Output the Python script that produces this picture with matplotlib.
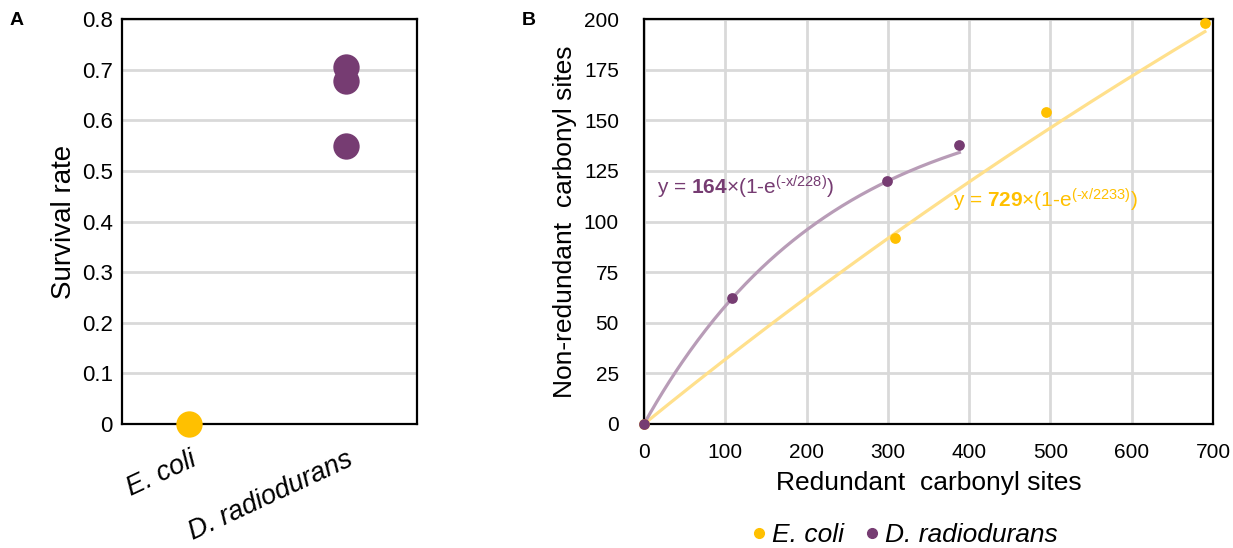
import numpy as np
import matplotlib.pyplot as plt
from matplotlib.lines import Line2D

plt.rcParams['font.family'] = ['Liberation Sans', 'DejaVu Sans']
plt.rcParams['mathtext.fontset'] = 'custom'
plt.rcParams['mathtext.rm'] = 'Liberation Sans'
plt.rcParams['mathtext.bf'] = 'Liberation Sans:bold'
plt.rcParams['mathtext.it'] = 'Liberation Sans:italic'

YELLOW = '#FFC000'
PURPLE = '#763C72'
YELLOW_FIT = '#FFE08C'
PURPLE_FIT = '#B89CB7'
GRID = '#D9D9D9'

# Panel A: survival rate per organism
species = ['E. coli', 'D. radiodurans']
survival_ecoli = [0.0]
survival_drad = [0.706, 0.677, 0.549]

# Panel B: redundant vs non-redundant carbonyl sites
ecoli_x = [0, 309, 494, 690]
ecoli_y = [0, 92, 154, 198]
drad_x = [0, 108, 299, 388]
drad_y = [0, 62, 120, 138]

# exponential saturation fits, y = a*(1-exp(-x/b))
ecoli_fit = (729, 2233)
drad_fit = (164, 228)

fig = plt.figure(figsize=(12.33, 5.48), dpi=100)
axA = fig.add_axes([0.0989, 0.2263, 0.2393, 0.739])
axB = fig.add_axes([0.5223, 0.2263, 0.4615, 0.739])

for ax in (axA, axB):
    for sp in ax.spines.values():
        sp.set_linewidth(1.6)
        sp.set_color('black')
    ax.set_axisbelow(True)
    ax.tick_params(length=0)

# --- A ---
axA.scatter([0] * len(survival_ecoli), survival_ecoli, s=360, color=YELLOW,
            zorder=3, clip_on=False, linewidths=0)
axA.scatter([1] * len(survival_drad), survival_drad, s=360, color=PURPLE,
            zorder=3, clip_on=False, linewidths=0)
axA.set_xlim(-0.43, 1.45)
axA.set_ylim(0, 0.8)
axA.set_yticks(np.arange(0, 0.81, 0.1))
axA.set_yticklabels(['0'] + [f'{v:.1f}' for v in np.arange(0.1, 0.81, 0.1)])
axA.tick_params(axis='y', labelsize=16, pad=6.5)
axA.set_xticks([0, 1])
axA.set_xticklabels(species, rotation=25, ha='right', rotation_mode='anchor',
                    fontstyle='italic', fontsize=19.5)
axA.tick_params(axis='x', pad=16)
axA.yaxis.grid(True, color=GRID, linewidth=2)
axA.set_ylabel('Survival rate', fontsize=20, labelpad=3.5)
fig.text(0.008, 0.963, 'A', fontsize=14, fontweight='bold', va='center')

# --- B ---
xe = np.linspace(0, max(ecoli_x), 200)
xd = np.linspace(0, max(drad_x), 200)
axB.plot(xe, ecoli_fit[0] * (1 - np.exp(-xe / ecoli_fit[1])), color=YELLOW_FIT,
         linewidth=2.3, zorder=2)
axB.plot(xd, drad_fit[0] * (1 - np.exp(-xd / drad_fit[1])), color=PURPLE_FIT,
         linewidth=2.3, zorder=2)
axB.scatter(ecoli_x, ecoli_y, s=60, color=YELLOW, zorder=3, clip_on=False, linewidths=0)
axB.scatter(drad_x, drad_y, s=60, color=PURPLE, zorder=3, clip_on=False, linewidths=0)
axB.set_xlim(0, 700)
axB.set_ylim(0, 200)
axB.set_xticks(np.arange(0, 701, 100))
axB.set_yticks(np.arange(0, 201, 25))
axB.grid(True, color=GRID, linewidth=2)
axB.tick_params(axis='x', labelsize=15, pad=14)
axB.tick_params(axis='y', labelsize=15, pad=18)
axB.set_xlabel('Redundant  carbonyl sites', fontsize=19, labelpad=6)
axB.set_ylabel('Non-redundant  carbonyl sites', fontsize=19, labelpad=5)

# hyphen (U+2010) keeps mathtext from turning "-" into a minus sign
eq = 'y = $\\mathbf{%d}$×(1-e$^{\\mathrm{(\u2010x/%d)}}$)'
axB.text(16, 117, eq % drad_fit, color=PURPLE, fontsize=15, va='center', ha='left')
axB.text(380, 110.5, eq % ecoli_fit, color=YELLOW, fontsize=15, va='center', ha='left')
fig.text(0.423, 0.963, 'B', fontsize=14, fontweight='bold', va='center')

handles = [Line2D([], [], marker='o', linestyle='', color=YELLOW, markersize=7),
           Line2D([], [], marker='o', linestyle='', color=PURPLE, markersize=7)]
leg = fig.legend(handles, species, loc='center', bbox_to_anchor=(0.7324, 0.024),
                 ncol=2, frameon=False, handletextpad=0.1, columnspacing=0.65,
                 prop={'style': 'italic', 'size': 19}, handlelength=0.8)

fig.savefig('out.png', dpi=100)
